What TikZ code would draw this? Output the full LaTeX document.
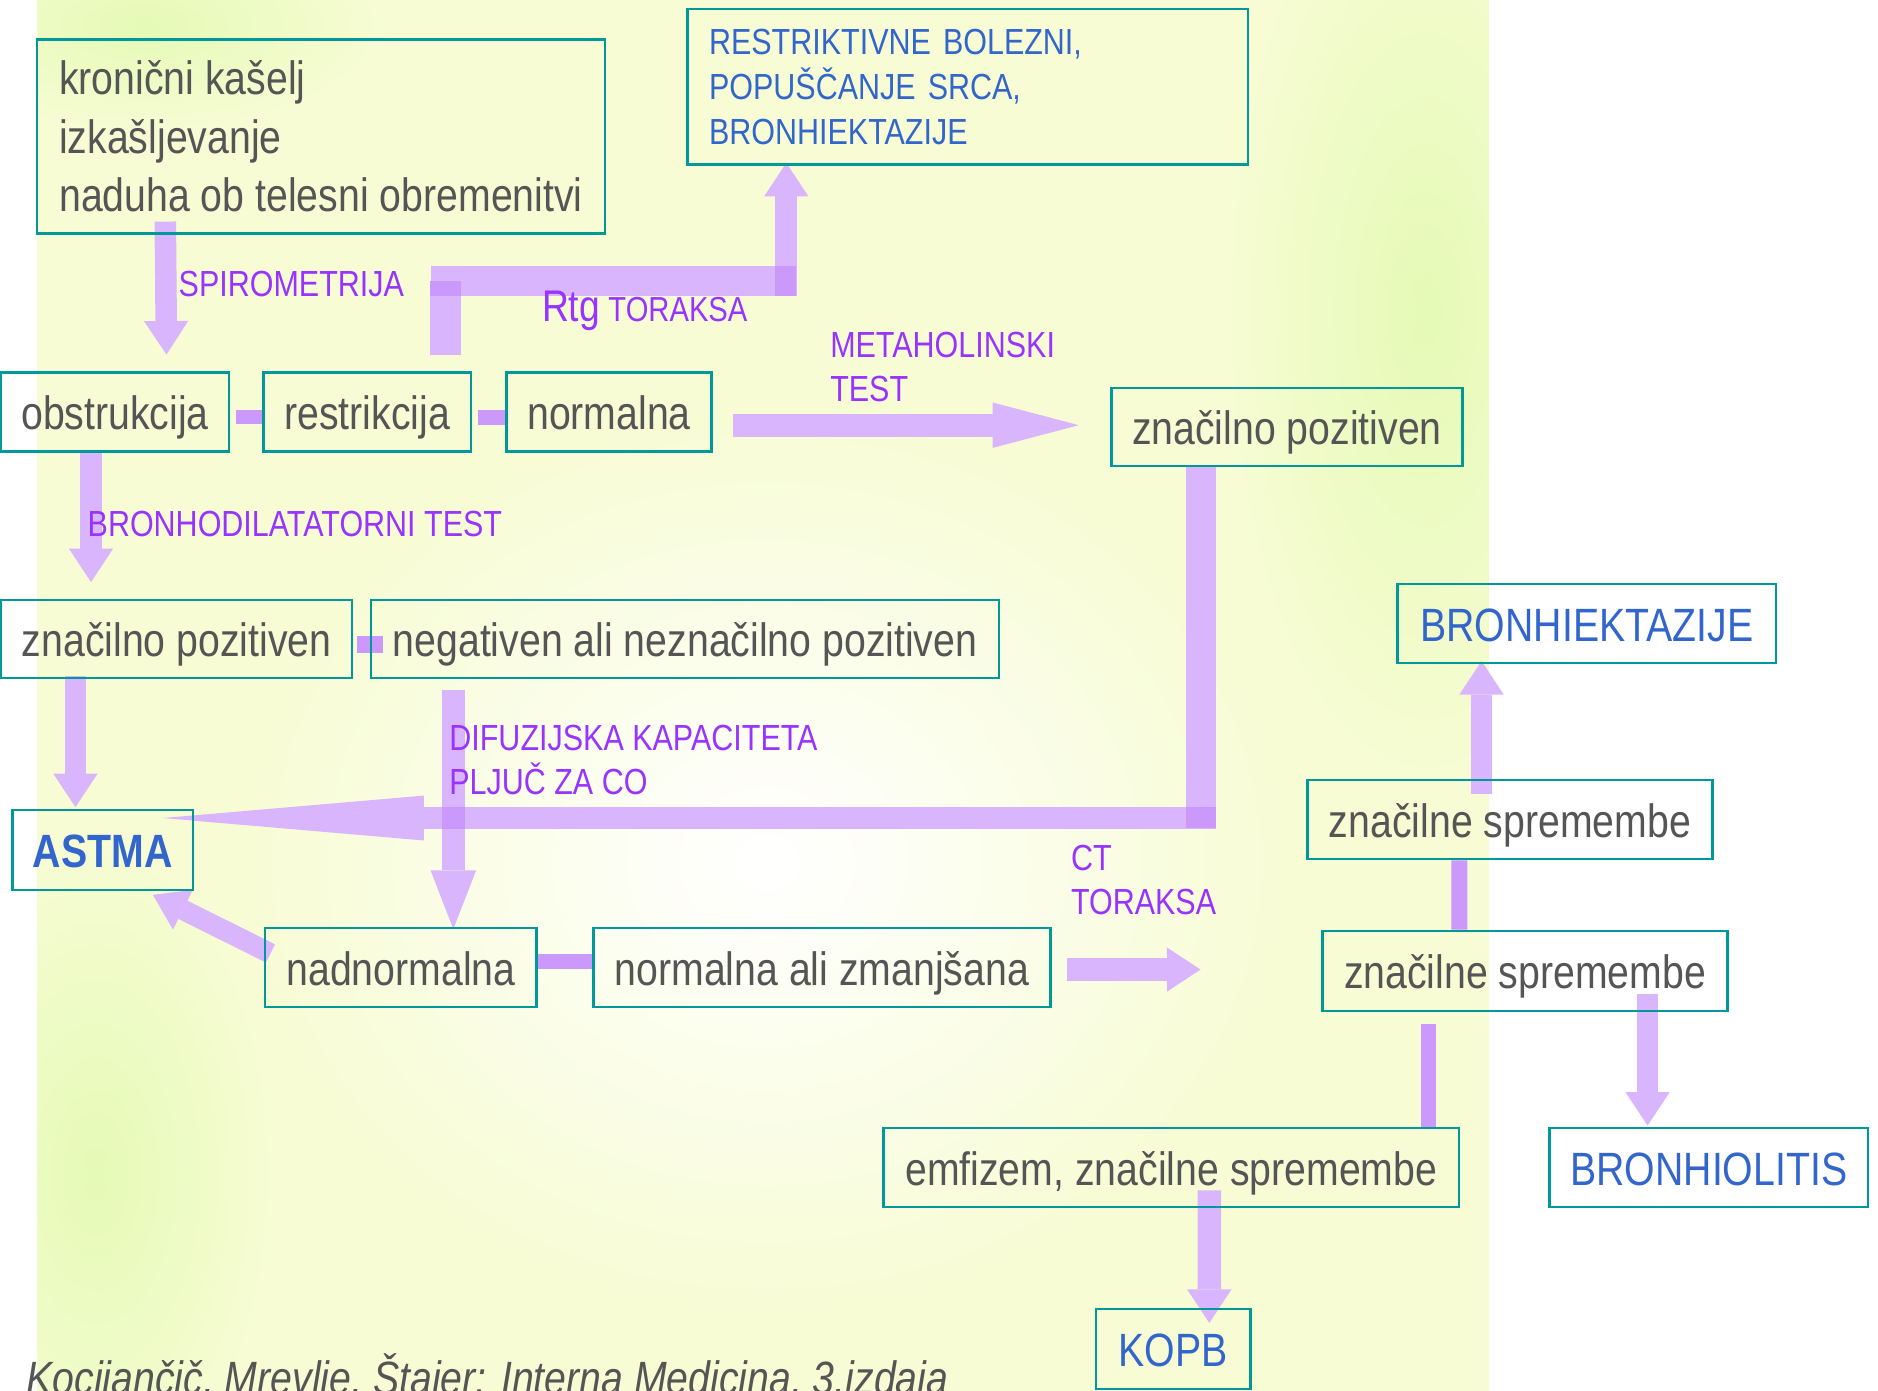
\documentclass[tikz,border=0pt]{standalone}
\usepackage{fontspec}
\setmainfont{Liberation Sans}[FakeStretch=0.84]
\usetikzlibrary{arrows.meta}
\definecolor{boxTeal}{RGB}{0,153,153}
\definecolor{txtGray}{RGB}{85,85,85}
\definecolor{txtBlue}{RGB}{51,102,204}
\definecolor{txtPurple}{RGB}{153,51,255}
\definecolor{arrowLilac}{RGB}{217,181,254}
\definecolor{linkLilac}{RGB}{203,152,252}
\definecolor{bgBase}{RGB}{247,252,212}
\definecolor{bgGreen}{RGB}{229,250,182}
\pgfdeclarelayer{backdrop}
\pgfdeclarelayer{behind}
\pgfsetlayers{backdrop,behind,main}
\tikzstyle{rec} = [rectangle, draw=boxTeal, line width=2pt, inner sep=0pt, minimum height=66pt, text height=39pt, text depth=9pt, text=txtGray, font=\fontsize{39}{48.7}\selectfont]
\tikzstyle{diag} = [rec, text=txtBlue]
\tikzstyle{lbl} = [inner sep=0pt, text=txtPurple, font=\fontsize{30.3}{36.8}\selectfont, align=left]
\tikzstyle{fatArrow} = [line width=18pt, draw=arrowLilac, -{Triangle[length=28pt,width=37pt,line width=0pt]}]
\tikzstyle{bar} = [line width=25pt, draw=arrowLilac]
\tikzstyle{link} = [line width=12.5pt, draw=linkLilac]
\tikzstyle{joint} = [fill=linkLilac]

\begin{document}
\begin{tikzpicture}[x=1pt, y=-1pt]
\useasboundingbox (0,0) rectangle (1568,1161);

% boxes
\node (sympt) [rec, minimum width=474pt, minimum height=162pt, text height=, text depth=, align=left] at (268,114) {kronični kašelj\\izkašljevanje\\naduha ob telesni obremenitvi};
\node (restrBol) [diag, minimum width=468pt, minimum height=130pt, text height=, text depth=, text width=432pt, align=left, font=\fontsize{30.3}{37.4}\selectfont] at (808,72.5) {RESTRIKTIVNE BOLEZNI,\\POPUŠČANJE SRCA,\\BRONHIEKTAZIJE};
\node (obstr) [rec, minimum width=190pt] at (96,344) {obstrukcija};
\node (restr) [rec, minimum width=173pt] at (306.5,344) {restrikcija};
\node (norm) [rec, minimum width=171pt] at (508.5,344) {normalna};
\node (posR) [rec, minimum width=293pt, minimum height=65pt] at (1074.5,356.5) {značilno pozitiven};
\node (posL) [rec, minimum width=293pt, minimum height=65pt] at (147.5,533.5) {značilno pozitiven};
\node (neg) [rec, minimum width=524pt, minimum height=65pt] at (572,533.5) {negativen ali neznačilno pozitiven};
\node (astma) [diag, minimum width=150.5pt, minimum height=67pt, font=\fontsize{39}{48.7}\selectfont\bfseries] at (85.75,709.7) {ASTMA};
\node (nadnorm) [rec, minimum width=226.5pt] at (334.75,807.75) {nadnormalna};
\node (normZm) [rec, minimum width=381.5pt] at (686.25,807.75) {normalna ali zmanjšana};
\node (bronhiekt) [diag, minimum width=316pt] at (1324.9,520.7) {BRONHIEKTAZIJE};
\node (spr1) [rec, minimum width=338pt] at (1260.7,684.4) {značilne spremembe};
\node (spr2) [rec, minimum width=338pt, minimum height=67pt] at (1273.3,810.7) {značilne spremembe};
\node (emfizem) [rec, minimum width=480.6pt] at (977.9,974.9) {emfizem, značilne spremembe};
\node (bronhiol) [diag, minimum width=266pt] at (1426.75,974.9) {BRONHIOLITIS};
\node (kopb) [diag, minimum width=129pt, minimum height=66.5pt] at (979.6,1126.3) {KOPB};

% test labels
\node (spiro) [lbl, anchor=base west] at (149,247.7) {SPIROMETRIJA};
\node (rtg) [lbl, anchor=base west] at (452.4,268.6) {{\fontsize{37}{40}\selectfont Rtg} {\fontsize{29}{36}\selectfont TORAKSA}};
\node (metah) [lbl, anchor=north west] at (693,277) {METAHOLINSKI\\TEST};
\node (bronho) [lbl, anchor=base west] at (73,448) {BRONHODILATATORNI TEST};
\node (difuz) [lbl, anchor=north west] at (375,605.3) {DIFUZIJSKA KAPACITETA\\PLJUČ ZA CO};
\node (ct) [lbl, anchor=north west] at (894,705.5) {CT\\TORAKSA};
\node (source) [anchor=base west, inner sep=0pt, text=txtGray, font=\fontsize{39}{48}\selectfont\itshape] at (22,1164) {Kocijančič, Mrevlje, Štajer: Interna Medicina, 3.izdaja};

% backdrop of the slide
\begin{pgfonlayer}{backdrop}
\begin{scope}
  \clip (31,0) rectangle (1243,1161);
  \fill [bgBase] (31,0) rectangle (1243,1161);
  \shade [inner color=white, outer color=bgBase] (640,720) ellipse (440 and 380);
  \shade [inner color=bgGreen, outer color=bgBase] (1190,260) ellipse (170 and 400);
  \shade [inner color=bgGreen, outer color=bgBase] (80,980) ellipse (150 and 280);
  \shade [inner color=bgGreen, outer color=bgBase] (120,20) ellipse (200 and 90);
\end{scope}
\end{pgfonlayer}

\begin{pgfonlayer}{behind}
% spirometrija
\draw [fatArrow] ([xshift=108pt,yshift=11pt]sympt.south west) -- ([xshift=43pt,yshift=14pt]obstr.north);
% rtg toraksa
\coordinate (rtgL) at (372,234.5);
\coordinate (rtgR) at (656.5,234.5);
\draw [bar, line width=26pt] ([xshift=65.5pt,yshift=13.2pt]restr.north) -- (rtgL);
\draw [bar] ([xshift=-12pt]rtgL) -- ([xshift=8.5pt]rtgR);
\draw [fatArrow, line width=18.5pt, shorten >=-2.5pt] ([yshift=-12.5pt]rtgR) -- (rtgR |- restrBol.south);
\fill [joint] ([xshift=-13pt]rtgL) rectangle ([xshift=13pt,yshift=-12.5pt]rtgL);
\fill [joint] ([xshift=-9.5pt,yshift=12.5pt]rtgR) rectangle ([xshift=8.5pt,yshift=-12.5pt]rtgR);
% metaholinski test
\draw [fatArrow, line width=19pt, -{Triangle[length=72pt,width=38pt,line width=0pt]}] ([xshift=17.4pt,yshift=-11pt]norm.east) -- ([xshift=-26.3pt,yshift=1.5pt]posR.west);
% bronhodilatatorni test
\draw [fatArrow] ([xshift=-20pt]obstr.south) -- ([xshift=-71.5pt,yshift=14pt]posL.north);
\draw [fatArrow] ([xshift=-84.5pt,yshift=2.4pt]posL.south) -- ([xshift=-22.75pt,yshift=1.3pt]astma.north);
% difuzijska kapaciteta
\draw [fatArrow, line width=19pt, -{Triangle[length=49pt,width=38pt,line width=0pt]}] ([xshift=-193.5pt,yshift=-9.5pt]neg.south) -- ([xshift=43.75pt,yshift=-2pt]nadnorm.north);
% positive methacholine test back to asthma
\coordinate (bend) at (1003,683);
\draw [bar] ([xshift=-71.5pt]posR.south) -- ([yshift=-8.5pt]bend);
\draw [fatArrow, -{Triangle[length=218pt,width=37.5pt,line width=0pt]}, shorten >=-26pt] ([xshift=12.5pt]bend) -- (astma.east |- bend);
\fill [joint] ([xshift=-12.5pt,yshift=9pt]bend) rectangle ([xshift=12.5pt,yshift=-8.5pt]bend);
\fill [joint] (369,674) rectangle (388,692);
\draw [fatArrow, line width=17pt] ([xshift=5.3pt,yshift=11.75pt]nadnorm.west) -- ([xshift=-34.4pt,yshift=-2.9pt]astma.south east);
% ct toraksa
\draw [fatArrow, line width=19pt] ([xshift=13pt,yshift=-1.75pt]normZm.east) -- ([xshift=-101pt,yshift=1.2pt]spr2.west);
\draw [fatArrow] ([xshift=-23.7pt,yshift=-12.5pt]spr1.north) -- ([xshift=-87.9pt,yshift=2.8pt]bronhiekt.south);
\draw [fatArrow] ([xshift=102.3pt,yshift=15.3pt]spr2.south) -- ([xshift=-51.15pt,yshift=1.1pt]bronhiol.north);
\draw [fatArrow, line width=19.5pt] ([xshift=31.8pt,yshift=15pt]emfizem.south) -- ([xshift=30.1pt,yshift=-12.5pt]kopb.north);
% joining bars
\draw [link, line width=12pt] ([xshift=5pt,yshift=-4pt]obstr.east) -- ([yshift=-4pt]restr.west);
\draw [link, line width=13pt] ([xshift=5pt,yshift=-4.5pt]restr.east) -- ([yshift=-4.5pt]norm.west);
\draw [link, line width=14pt] ([xshift=3pt,yshift=-4.5pt]posL.east) -- ([xshift=11pt,yshift=-4.5pt]neg.west);
\draw [link] ([yshift=4.75pt]nadnorm.east) -- ([yshift=4.75pt]normZm.west);
\draw [link, line width=13.3pt] ([xshift=-42.3pt]spr1.south) -- ([xshift=-54.9pt]spr2.north);
\draw [link] ([xshift=-80.55pt,yshift=-9.5pt]spr2.south) -- ([xshift=214.85pt]emfizem.north);
\end{pgfonlayer}
\end{tikzpicture}
\end{document}
